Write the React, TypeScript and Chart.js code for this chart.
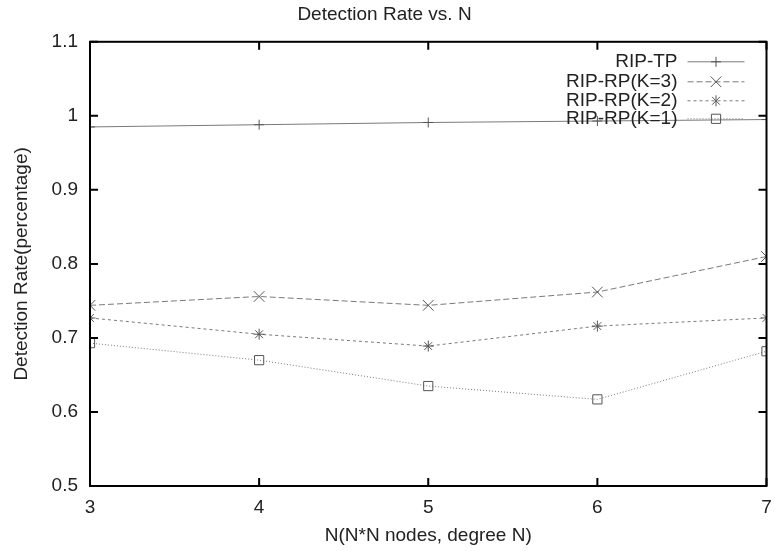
import React, { useEffect, useRef } from "react";
import { Chart, registerables } from "chart.js";

Chart.register(...registerables);

const nValues = [3, 4, 5, 6, 7];
const ripTP = [0.985, 0.988, 0.991, 0.993, 0.995];
const ripRPK3 = [0.744, 0.756, 0.744, 0.762, 0.81];
const ripRPK2 = [0.727, 0.705, 0.689, 0.716, 0.727];
const ripRPK1 = [0.693, 0.67, 0.635, 0.617, 0.682];
const seriesLabels = ["RIP-TP", "RIP-RP(K=3)", "RIP-RP(K=2)", "RIP-RP(K=1)"];
const yTicks = [0.5, 0.6, 0.7, 0.8, 0.9, 1, 1.1];
const xTicks = [3, 4, 5, 6, 7];

const FONT = "'Liberation Sans', Arial, Helvetica, sans-serif";
const TEXT = "#222";
const FS = 19;

const frameTicks = {
  id: "frameTicks",
  afterDraw(chart: any) {
    const { ctx, chartArea, scales } = chart;
    const { left, right, top, bottom } = chartArea;
    ctx.save();
    ctx.strokeStyle = "#000";
    ctx.lineWidth = 2;
    ctx.setLineDash([]);
    ctx.strokeRect(left, top, right - left, bottom - top);
    const L = 8;
    ctx.beginPath();
    for (const v of yTicks) {
      const y = scales.y.getPixelForValue(v);
      ctx.moveTo(left, y);
      ctx.lineTo(left + L, y);
      ctx.moveTo(right, y);
      ctx.lineTo(right - L, y);
    }
    for (const v of xTicks) {
      const x = scales.x.getPixelForValue(v);
      ctx.moveTo(x, bottom);
      ctx.lineTo(x, bottom - L);
      ctx.moveTo(x, top);
      ctx.lineTo(x, top + L);
    }
    ctx.stroke();
    ctx.restore();
  },
};

const customLegend = {
  id: "customLegend",
  afterDraw(chart: any) {
    const { ctx, chartArea } = chart;
    const rowOffsets = [20, 40, 59, 77];
    const textRight = chartArea.right - 89;
    const lineStart = chartArea.right - 79;
    const lineEnd = chartArea.right - 22;
    ctx.save();
    chart.data.datasets.forEach((ds: any, i: number) => {
      const y = chartArea.top + rowOffsets[i];
      ctx.font = `${FS}px ${FONT}`;
      ctx.fillStyle = TEXT;
      ctx.textAlign = "right";
      ctx.textBaseline = "middle";
      ctx.fillText(ds.label, textRight, y);
      ctx.strokeStyle = ds.borderColor;
      ctx.lineWidth = ds.borderWidth;
      ctx.setLineDash(ds.borderDash || []);
      ctx.beginPath();
      ctx.moveTo(lineStart, y);
      ctx.lineTo(lineEnd, y);
      ctx.stroke();
      ctx.setLineDash([]);
      ctx.strokeStyle = ds.pointBorderColor;
      ctx.lineWidth = ds.pointBorderWidth;
      const mx = (lineStart + lineEnd) / 2;
      const r = ds.pointRadius;
      ctx.beginPath();
      if (ds.pointStyle === "cross") {
        ctx.moveTo(mx, y - r); ctx.lineTo(mx, y + r);
        ctx.moveTo(mx - r, y); ctx.lineTo(mx + r, y);
      } else if (ds.pointStyle === "crossRot") {
        const o = r * Math.SQRT1_2;
        ctx.moveTo(mx - o, y - o); ctx.lineTo(mx + o, y + o);
        ctx.moveTo(mx - o, y + o); ctx.lineTo(mx + o, y - o);
      } else if (ds.pointStyle === "star") {
        const o = r * Math.SQRT1_2;
        ctx.moveTo(mx - o, y - o); ctx.lineTo(mx + o, y + o);
        ctx.moveTo(mx - o, y + o); ctx.lineTo(mx + o, y - o);
        ctx.moveTo(mx, y - r); ctx.lineTo(mx, y + r);
      } else if (ds.pointStyle === "rect") {
        const s = r * Math.SQRT1_2;
        ctx.rect(mx - s, y - s, 2 * s, 2 * s);
      }
      ctx.stroke();
    });
    ctx.restore();
  },
};

export default function App() {
  const ref = useRef<HTMLCanvasElement | null>(null);
  useEffect(() => {
    if (!ref.current) return;
    const mk = (label: string, vals: number[], dash: number[], style: string, r: number) => ({
      label,
      data: nValues.map((n, i) => ({ x: n, y: vals[i] })),
      borderColor: "#7a7a7a",
      borderWidth: 1,
      borderDash: dash,
      pointStyle: style,
      pointRadius: r,
      pointHoverRadius: r,
      pointBorderColor: "#555",
      pointBackgroundColor: "rgba(0,0,0,0)",
      pointBorderWidth: 1,
      fill: false,
      tension: 0,
    });
    const chart = new Chart(ref.current, {
      type: "line",
      data: {
        datasets: [
          mk(seriesLabels[0], ripTP, [], "cross", 5),
          mk(seriesLabels[1], ripRPK3, [6, 3], "crossRot", 7.5),
          mk(seriesLabels[2], ripRPK2, [3, 3], "star", 5.5),
          mk(seriesLabels[3], ripRPK1, [1, 2], "rect", 6.5),
        ] as any,
      },
      options: {
        animation: false,
        responsive: false,
        maintainAspectRatio: false,
        layout: { padding: { left: 0, right: 6, top: 0, bottom: 0 } },
        plugins: {
          legend: { display: false },
          tooltip: { enabled: false },
          title: {
            display: true,
            text: "Detection Rate vs. N",
            color: TEXT,
            font: { family: FONT, size: FS, weight: "normal", lineHeight: 1.2 },
            padding: { top: 3, bottom: 16 },
          },
        },
        scales: {
          x: {
            type: "linear",
            min: 3,
            max: 7,
            afterFit(s: any) {
              s.height = 65;
              s.paddingLeft = 0;
              s.paddingRight = 0;
            },
            grid: { display: false, drawTicks: false },
            border: { display: false },
            ticks: {
              stepSize: 1,
              padding: 10,
              color: TEXT,
              font: { family: FONT, size: FS },
            },
            title: {
              display: true,
              text: "N(N*N nodes, degree N)",
              color: TEXT,
              font: { family: FONT, size: FS },
              padding: { top: 8 },
            },
          },
          y: {
            type: "linear",
            min: 0.5,
            max: 1.1,
            afterFit(s: any) {
              s.width = 90;
              s.paddingTop = 0;
              s.paddingBottom = 0;
            },
            grid: { display: false, drawTicks: false },
            border: { display: false },
            ticks: {
              stepSize: 0.1,
              padding: 12,
              color: TEXT,
              font: { family: FONT, size: FS },
              callback: (v: any) => String(Math.round(Number(v) * 10) / 10),
            },
            title: {
              display: true,
              text: "Detection Rate(percentage)",
              color: TEXT,
              font: { family: FONT, size: FS },
              padding: { top: 10, bottom: 4 },
            },
          },
        },
      } as any,
      plugins: [frameTicks, customLegend],
    });
    return () => chart.destroy();
  }, []);
  return (
    <div style={{ position: "absolute", left: 0, top: 0, width: 775, height: 551, background: "#fff" }}>
      <canvas ref={ref} width={775} height={551} style={{ display: "block" }} />
    </div>
  );
}
